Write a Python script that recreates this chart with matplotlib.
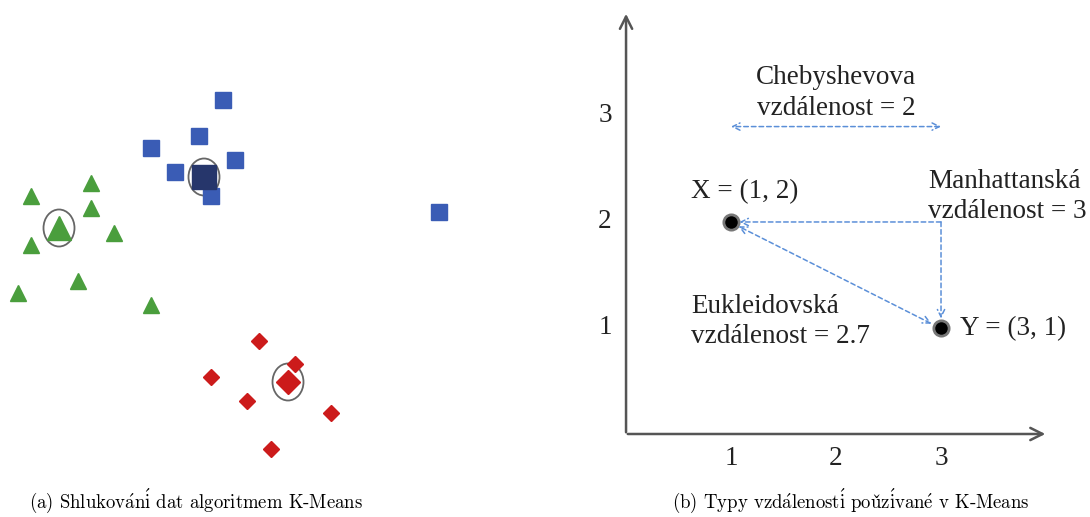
import numpy as np
import matplotlib
matplotlib.use('Agg')
import matplotlib.pyplot as plt
from matplotlib.patches import Ellipse

plt.rcParams['mathtext.fontset'] = 'cm'

# left panel: cluster points (picture units, y grows downward)
green_x = [91, 31, 91, 114, 31, 78, 18, 151]
green_y = [183, 196, 208, 233, 245, 281, 293, 305]
blue_x = [223, 199, 151, 235, 175, 211, 439]
blue_y = [100, 136, 148, 160, 172, 196, 212]
red_x = [259, 295, 211, 247, 331, 271]
red_y = [341, 364, 377, 401, 413, 449]
cent_x = [59, 204, 288]      # green, blue, red centroid
cent_y = [228, 177, 382]

# right panel: distance example
pts_x = [1, 3]
pts_y = [2, 1]
pt_labels = ['X = (1, 2)', 'Y = (3, 1)']
ticks = [1, 2, 3]

fig = plt.figure(figsize=(10.9, 5.17), dpi=100)

# ---- (a) K-Means clustering
ax1 = fig.add_axes([0, 37/517, 470/1090, 480/517])
ax1.set_xlim(0, 470)
ax1.set_ylim(480, 0)
ax1.axis('off')
ax1.plot(green_x, green_y, '^', color='#4a9e3d', ms=12, mec='#4a9e3d')
ax1.plot(blue_x, blue_y, 's', color='#3a5cb5', ms=11, mec='#3a5cb5')
ax1.plot(red_x, red_y, 'D', color='#cc1b1b', ms=8.5, mec='#cc1b1b')
ax1.plot(cent_x[0], cent_y[0], '^', color='#4a9e3d', ms=17)
ax1.plot(cent_x[1], cent_y[1], 's', color='#26366b', ms=17)
ax1.plot(cent_x[2], cent_y[2], 'D', color='#cc1b1b', ms=12.5)
for cx, cy in zip(cent_x, cent_y):
    ax1.add_patch(Ellipse((cx, cy), 31, 37, fill=False, ec='#666666', lw=1.3))

# ---- (b) distance types
ax2 = fig.add_axes([560/1090, 37/517, 530/1090, 480/517])
ax2.set_xlim(-0.629, 4.419)
ax2.set_ylim(-0.434, 4.094)
ax2.axis('off')
axis_col = '#555555'
ax2.annotate('', xy=(0, 3.99), xytext=(0, -0.01),
             arrowprops=dict(arrowstyle='->', color=axis_col, lw=1.8, mutation_scale=22))
ax2.annotate('', xy=(4.02, 0), xytext=(-0.01, 0),
             arrowprops=dict(arrowstyle='->', color=axis_col, lw=1.8, mutation_scale=22))

tfont = dict(family='Liberation Serif', fontsize=19.5, color='#222222')
for t in ticks:
    ax2.text(t, -0.23, str(t), ha='center', va='center', **tfont)
    ax2.text(-0.2, t, str(t), ha='center', va='center', **tfont)

dash = dict(arrowstyle='<->', color='#5b8fd8', lw=1.1, ls=(0, (3, 2)), mutation_scale=13,
            shrinkA=0, shrinkB=0)
# Chebyshev
ax2.annotate('', xy=(1.0, 2.9), xytext=(3.0, 2.9), arrowprops=dash)
# Manhattan
ax2.annotate('', xy=(pts_x[0] + 0.08, pts_y[0]), xytext=(pts_x[1], pts_y[0]),
             arrowprops=dict(dash, arrowstyle='->'))
ax2.annotate('', xy=(pts_x[1], pts_y[1] + 0.09), xytext=(pts_x[1], pts_y[0]),
             arrowprops=dict(dash, arrowstyle='->'))
# Euclid
ax2.annotate('', xy=(pts_x[0] + 0.07, pts_y[0] - 0.04), xytext=(pts_x[1] - 0.09, pts_y[1] + 0.04),
             arrowprops=dash)

ax2.plot(pts_x, pts_y, 'o', color='black', ms=11, mec='#777777', mew=2)
ax2.text(0.62, 2.29, pt_labels[0], ha='left', va='center', **tfont)
ax2.text(3.18, 0.99, pt_labels[1], ha='left', va='center', **tfont)

ax2.text(2.0, 3.22, 'Chebyshevova\nvzdálenost = 2', ha='center', va='center',
         linespacing=1.3, **tfont)
ax2.text(2.88, 2.24, 'Manhattanská\nvzdálenost = 3', ha='left', va='center',
         linespacing=1.3, **tfont)
ax2.text(0.62, 1.06, 'Eukleidovská\nvzdálenost = 2.7', ha='left', va='center',
         linespacing=1.3, **tfont)

# captions (Computer Modern, accents through mathtext)
aa = r'$\mathrm{\acute{a}}$'
ii = r'$\mathrm{\acute{i}}$'
ee = r'$\mathrm{\acute{e}}$'
zz = r'$\mathrm{\check{z}}$'
cap = dict(family='cmr10', fontsize=13.5, color='black', ha='center', va='center')
fig.text(196/1090, 1 - 501/517, '(a) Shlukov' + aa + 'n' + ii + ' dat algoritmem K-Means', **cap)
fig.text(851/1090, 1 - 501/517,
         '(b) Typy vzd' + aa + 'lenost' + ii + ' pou' + zz + ii + 'van' + ee + ' v K-Means',
         **cap)

fig.savefig('out.png', dpi=100)
